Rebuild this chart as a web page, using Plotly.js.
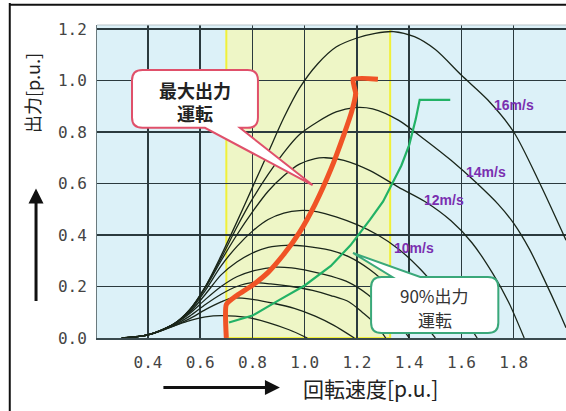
<!DOCTYPE html>
<html>
<head>
<meta charset="utf-8">
<script src="https://cdn.plot.ly/plotly-3.0.1.min.js"></script>
<style>
html,body{margin:0;padding:0;background:#fff;}
#chart{width:566px;height:411px;}
</style>
</head>
<body>
<div id="chart"></div>
<script>
// ---- data ----
const xTicks = [0.4, 0.6, 0.8, 1.0, 1.2, 1.4, 1.6, 1.8];
const xTickText = ['0.4','0.6','0.8','1.0','1.2','1.4','1.6','1.8'];
const yTicks = [0.0, 0.2, 0.4, 0.6, 0.8, 1.0, 1.2];
const yTickText = ['0.0','0.2','0.4','0.6','0.8','1.0','1.2'];

// power curves per wind speed (rotor speed p.u., output p.u.)
const w16x = [0.30,0.40,0.50,0.56,0.62,0.68,0.74,0.80,0.86,0.92,0.98,1.05,1.12,1.20,1.27,1.34,1.42,1.50,1.60,1.70,1.80,1.90,2.00];
const w16y = [0,0.012,0.055,0.11,0.20,0.32,0.45,0.585,0.72,0.855,0.97,1.065,1.13,1.165,1.183,1.19,1.17,1.12,1.02,0.925,0.80,0.60,0.38];
const w14x = [0.30,0.40,0.50,0.56,0.62,0.68,0.74,0.80,0.86,0.92,0.98,1.05,1.12,1.19,1.26,1.36,1.46,1.56,1.66,1.74,1.80,1.86,1.92,1.97,2.00];
const w14y = [0,0.012,0.055,0.11,0.20,0.31,0.43,0.54,0.635,0.72,0.79,0.84,0.878,0.895,0.89,0.845,0.77,0.69,0.60,0.52,0.445,0.345,0.22,0.11,0.04];
const w12x = [0.30,0.40,0.50,0.56,0.62,0.68,0.74,0.80,0.86,0.92,0.98,1.04,1.08,1.15,1.25,1.36,1.46,1.56,1.64,1.72,1.78,1.84];
const w12y = [0,0.012,0.055,0.11,0.195,0.30,0.40,0.49,0.57,0.63,0.675,0.697,0.70,0.69,0.65,0.585,0.53,0.455,0.37,0.25,0.14,0];
const w10x = [0.30,0.40,0.50,0.56,0.62,0.68,0.74,0.80,0.86,0.92,0.98,1.05,1.12,1.20,1.28,1.36,1.44,1.52,1.60,1.66];
const w10y = [0,0.012,0.055,0.105,0.185,0.28,0.355,0.415,0.46,0.485,0.495,0.49,0.47,0.44,0.40,0.345,0.27,0.18,0.09,0];
const w9x = [0.30,0.40,0.50,0.56,0.62,0.68,0.74,0.80,0.86,0.93,1.00,1.10,1.17,1.25,1.33,1.41,1.50];
const w9y = [0,0.012,0.055,0.10,0.17,0.245,0.295,0.33,0.352,0.36,0.357,0.34,0.315,0.265,0.195,0.11,0];
const w8x = [0.30,0.40,0.50,0.56,0.62,0.68,0.74,0.80,0.89,0.95,1.02,1.10,1.17,1.24,1.31,1.36,1.40];
const w8y = [0,0.012,0.053,0.095,0.15,0.20,0.238,0.26,0.275,0.272,0.26,0.24,0.215,0.17,0.105,0.055,0];
const w7x = [0.30,0.40,0.50,0.56,0.62,0.68,0.74,0.80,0.87,0.95,1.03,1.10,1.17,1.22,1.27,1.31];
const w7y = [0,0.012,0.05,0.085,0.13,0.17,0.2,0.215,0.21,0.2,0.185,0.165,0.14,0.10,0.055,0];
const w6x = [0.30,0.40,0.50,0.56,0.62,0.68,0.72,0.80,0.88,0.96,1.04,1.11,1.19];
const w6y = [0,0.012,0.047,0.075,0.11,0.14,0.155,0.15,0.135,0.115,0.085,0.05,0];
const w5x = [0.30,0.40,0.48,0.55,0.62,0.68,0.78,0.86,0.94,1.01];
const w5y = [0,0.012,0.04,0.065,0.082,0.087,0.08,0.06,0.032,0];

// maximum-output operating line and 90% output operating line
const maxOpX = [0.70,0.70,0.74,0.80,0.86,0.92,0.98,1.04,1.10,1.15,1.18,1.195,1.185,1.28];
const maxOpY = [0,0.13,0.165,0.205,0.255,0.325,0.41,0.52,0.655,0.79,0.88,0.95,1.005,1.005];
const op90X = [0.71,0.80,0.90,1.00,1.10,1.175,1.25,1.30,1.335,1.37,1.40,1.425,1.44,1.557];
const op90Y = [0.06,0.087,0.146,0.204,0.28,0.36,0.46,0.53,0.60,0.67,0.75,0.85,0.925,0.925];

const speedLabels = ['16m/s','14m/s','12m/s','10m/s'];
const speedLabelX = [1.80,1.695,1.534,1.42];
const speedLabelY = [0.903,0.643,0.534,0.351];

// ---- traces ----
const curveColor = '#1a261a';
const curves = [[w16x,w16y],[w14x,w14y],[w12x,w12y],[w10x,w10y],[w9x,w9y],[w8x,w8y],[w7x,w7y],[w6x,w6y],[w5x,w5y]];
const traces = curves.map(c => ({
  x: c[0], y: c[1], type: 'scatter', mode: 'lines',
  line: {color: curveColor, width: 1.3, shape: 'spline', smoothing: 0.8},
  hoverinfo: 'skip', showlegend: false
}));
traces.push({x: op90X, y: op90Y, type:'scatter', mode:'lines',
  line:{color:'#22b266', width:2.2}, hoverinfo:'skip', showlegend:false});
traces.push({x: maxOpX, y: maxOpY, type:'scatter', mode:'lines',
  line:{color:'#f05326', width:5, shape:'spline', smoothing:0.5}, hoverinfo:'skip', showlegend:false});

// ---- callout geometry helper ----
function calloutPath(x0,x1,y0,y1,rx,ry,side,b0,b1,tx,ty){
  let p = `M ${x0+rx},${y1} `;
  if(side==='top') p += `L ${b0},${y1} L ${tx},${ty} L ${b1},${y1} `;
  p += `L ${x1-rx},${y1} Q ${x1},${y1} ${x1},${y1-ry} L ${x1},${y0+ry} Q ${x1},${y0} ${x1-rx},${y0} `;
  if(side==='bottom') p += `L ${b1},${y0} L ${tx},${ty} L ${b0},${y0} `;
  p += `L ${x0+rx},${y0} Q ${x0},${y0} ${x0},${y0+ry} L ${x0},${y1-ry} Q ${x0},${y1} ${x0+rx},${y1} Z`;
  return p;
}

const shapes = [
  // yellow rated-speed region
  {type:'rect', xref:'x', yref:'y', x0:0.70, x1:1.327, y0:0, y1:1.2,
   fillcolor:'#eef6c6', line:{color:'#f0f03a', width:2}, layer:'below'},
  // top border of plot
  {type:'line', xref:'paper', yref:'paper', x0:0, x1:1, y0:1, y1:1,
   line:{color:'#b8c4c8', width:1}},
  // outer frame (left/top)
  {type:'line', xref:'paper', yref:'paper', x0:-0.186, x1:-0.186, y0:-0.3, y1:1.07,
   line:{color:'#111', width:2}},
  {type:'line', xref:'paper', yref:'paper', x0:-0.186, x1:1.05, y0:1.065, y1:1.065,
   line:{color:'#111', width:2}},
  // callout: max output operation
  {type:'path', xref:'x', yref:'y', layer:'above',
   path: calloutPath(0.339,0.821,0.816,1.041,0.04,0.04,'bottom',0.618,0.752,1.03,0.594),
   fillcolor:'#ffffff', line:{color:'#e0506a', width:2}},
  // callout: 90% output operation
  {type:'path', xref:'x', yref:'y', layer:'above',
   path: calloutPath(1.254,1.741,0.019,0.237,0.04,0.04,'top',1.335,1.442,1.185,0.33),
   fillcolor:'#ffffff', line:{color:'#3aa87a', width:2}}
];

const annotations = speedLabels.map((t,i)=>({
  x: speedLabelX[i], y: speedLabelY[i], xref:'x', yref:'y', text: t, showarrow:false,
  xanchor:'center', yanchor:'middle',
  font:{family:'Liberation Sans, Arial, sans-serif', size:14, color:'#7a2fb0', weight:'bold'}
}));
annotations.push(
  {x:0.58, y:0.917, xref:'x', yref:'y', text:'<b>最大出力</b><br><b>運転</b>', showarrow:false,
   xanchor:'center', yanchor:'middle',
   font:{family:'Noto Sans CJK JP', size:18, color:'#222'}},
  {x:1.497, y:0.167, xref:'x', yref:'y', text:'90%出力', showarrow:false,
   xanchor:'center', yanchor:'middle',
   font:{family:'Noto Sans CJK JP', size:17, color:'#333'}},
  {x:1.497, y:0.070, xref:'x', yref:'y', text:'運転', showarrow:false,
   xanchor:'center', yanchor:'middle',
   font:{family:'Noto Sans CJK JP', size:17, color:'#333'}},
  // axis titles with arrows
  {x:0.584, y:-0.16, xref:'paper', yref:'paper', text:'回転速度[p.u.]', showarrow:false,
   xanchor:'center', yanchor:'middle',
   font:{family:'Noto Sans CJK JP', size:21, color:'#222'}},
  {x:0.390, y:-0.158, xref:'paper', yref:'paper', text:'', showarrow:true,
   ax:-118, ay:0, arrowhead:2, arrowsize:1, arrowwidth:3, arrowcolor:'#111'},
  {x:-0.139, y:0.782, xref:'paper', yref:'paper', text:'出力[p.u.]', textangle:-90, showarrow:false,
   xanchor:'center', yanchor:'middle',
   font:{family:'Noto Sans CJK JP', size:18, color:'#222'}},
  {x:-0.130, y:0.478, xref:'paper', yref:'paper', text:'', showarrow:true,
   ax:0, ay:114, arrowhead:2, arrowsize:1, arrowwidth:3, arrowcolor:'#111'}
);

const gridColor = '#2b3a3e';
const layout = {
  width:566, height:411,
  margin:{l:97, r:0, t:25, b:73, pad:0},
  paper_bgcolor:'#ffffff', plot_bgcolor:'#dcf1f8',
  showlegend:false,
  xaxis:{range:[0.205,2.0], tickvals:xTicks, ticktext:xTickText, showgrid:true,
    gridcolor:gridColor, gridwidth:1.5, zeroline:false, showline:true, linecolor:'#3a4a4e', linewidth:1.5,
    ticks:'', ticklabelstandoff:9,
    tickfont:{family:'DejaVu Sans Mono, monospace', size:16, color:'#444'}},
  yaxis:{range:[0,1.2155], tickvals:yTicks, ticktext:yTickText, showgrid:true,
    gridcolor:gridColor, gridwidth:1.5, zeroline:false, showline:true, linecolor:'#6a7a7e', linewidth:1,
    ticks:'', ticklabelstandoff:6,
    tickfont:{family:'DejaVu Sans Mono, monospace', size:16, color:'#444'}},
  shapes: shapes,
  annotations: annotations
};

Plotly.newPlot('chart', traces, layout, {staticPlot:true, displayModeBar:false});
</script>
</body>
</html>
